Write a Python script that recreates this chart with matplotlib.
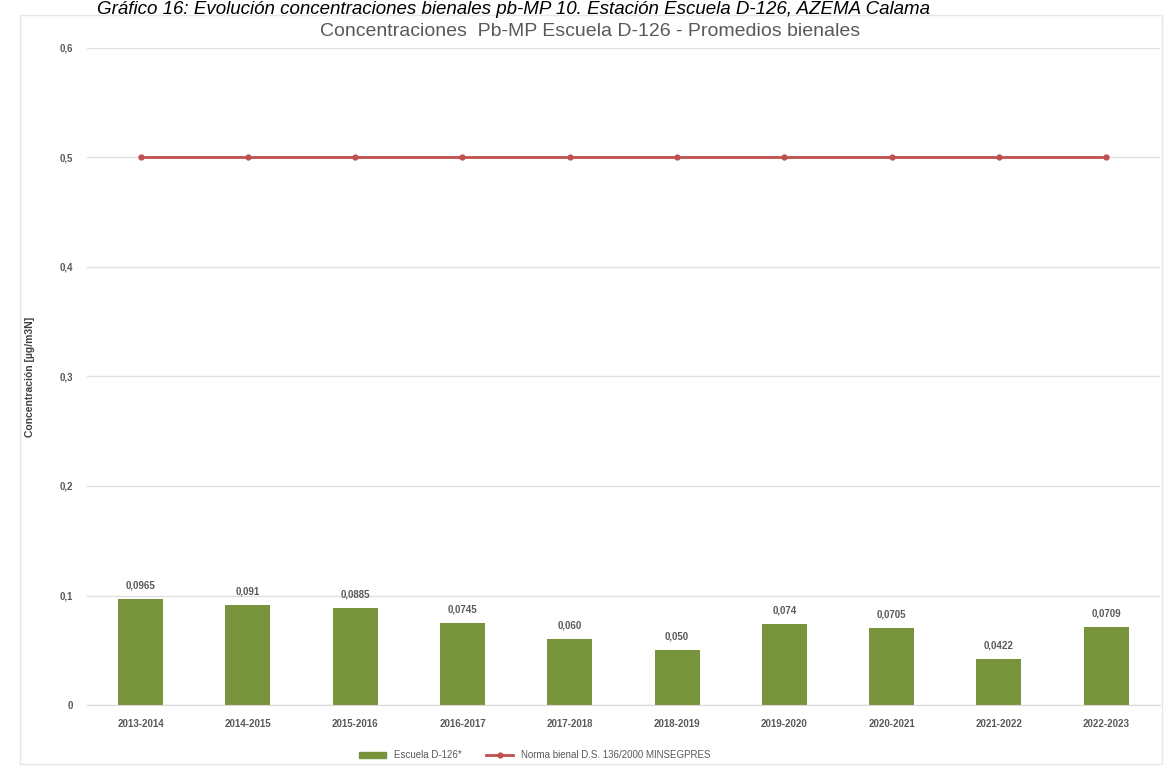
import matplotlib.pyplot as plt
from matplotlib.patches import Rectangle
from matplotlib.lines import Line2D

plt.rcParams['font.family'] = ['Liberation Sans Narrow', 'Liberation Sans', 'DejaVu Sans']

periods = ['2013-2014', '2014-2015', '2015-2016', '2016-2017', '2017-2018',
           '2018-2019', '2019-2020', '2020-2021', '2021-2022', '2022-2023']
pb_values = [0.0965, 0.091, 0.0885, 0.0745, 0.060, 0.050, 0.074, 0.0705, 0.0422, 0.0709]
pb_labels = ['0,0965', '0,091', '0,0885', '0,0745', '0,060',
             '0,050', '0,074', '0,0705', '0,0422', '0,0709']
norma = [0.5] * len(periods)
y_ticks = [0, 0.1, 0.2, 0.3, 0.4, 0.5, 0.6]
y_tick_labels = ['0', '0,1', '0,2', '0,3', '0,4', '0,5', '0,6']

green = '#77933C'
red = '#C0504D'
txt = '#595959'

fig = plt.figure(figsize=(11.68, 7.70), dpi=100)
ax = fig.add_axes([0.0745, 0.0844, 0.9185, 0.8533])

x = list(range(len(periods)))
ax.bar(x, pb_values, width=0.42, color=green, zorder=2)
ax.plot(x, norma, color=red, lw=2, marker='o', markersize=3.5, zorder=3)

for xi, v, lab in zip(x, pb_values, pb_labels):
    ax.text(xi, v + 0.008, lab, ha='center', va='bottom', fontsize=7,
            fontweight='bold', color=txt)

ax.set_ylim(0, 0.6)
ax.set_xlim(-0.5, len(periods) - 0.5)
ax.set_yticks(y_ticks)
ax.set_yticklabels(y_tick_labels, fontsize=7, color=txt, fontweight='bold')
ax.set_xticks(x)
ax.set_xticklabels(periods, fontsize=7, color=txt, fontweight='bold')
ax.tick_params(length=0, pad=10)
ax.yaxis.grid(True, color='#E0E0E0', lw=1)
ax.set_axisbelow(True)
for s in ['top', 'right', 'left']:
    ax.spines[s].set_visible(False)
ax.spines['bottom'].set_color('#D9D9D9')
ax.set_ylabel('Concentración [µg/m3N]', fontsize=7.5, color='#404040',
              fontweight='bold', labelpad=18)

fig.text(0.505, 0.959, 'Concentraciones  Pb-MP Escuela D-126 - Promedios bienales',
         ha='center', va='center', fontsize=14, color=txt)
fig.text(0.083, 0.999, 'Gráfico 16: Evolución concentraciones bienales pb-MP 10. '
         'Estación Escuela D-126, AZEMA Calama',
         ha='left', va='top', fontsize=13.5, style='italic',
         family=['Liberation Sans', 'DejaVu Sans'])

fig.patches.append(Rectangle((0.017, 0.008), 0.978, 0.972, transform=fig.transFigure,
                             fill=False, edgecolor='#E6E6E6', lw=1))

handles = [Rectangle((0, 0), 1, 1, color=green),
           Line2D([0], [0], color=red, lw=2, marker='o', markersize=3.5)]
fig.legend(handles, ['Escuela D-126*', 'Norma bienal D.S. 136/2000 MINSEGPRES'],
           loc='center', bbox_to_anchor=(0.458, 0.019), ncol=2, frameon=False,
           fontsize=7, labelcolor=txt, columnspacing=2.5, handlelength=2.8)

fig.savefig('out.png', dpi=100)
